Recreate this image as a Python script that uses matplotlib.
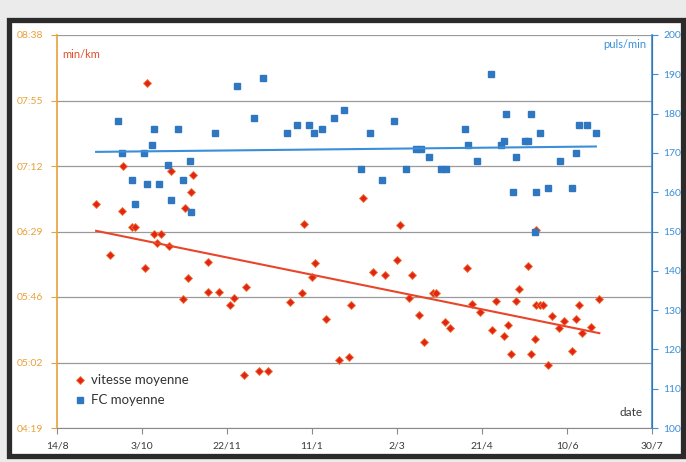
import matplotlib
matplotlib.use("Agg")
import matplotlib.pyplot as plt
import numpy as np
import pandas as pd
from matplotlib.ticker import FuncFormatter, FixedLocator, MultipleLocator
from matplotlib.patches import Rectangle

plt.rcParams["font.family"] = ["Lato", "DejaVu Sans"]

# dates de depart / fin de l'axe x
debut = pd.Timestamp("2010-08-14")
fin = pd.Timestamp("2011-07-30")

# vitesse moyenne : jours depuis le 14/8, secondes par km
jours_vitesse = [23, 31, 38, 39, 44, 46, 52, 53, 57, 59, 61, 66, 67, 74, 75, 77, 79, 80, 89, 89,
                 95, 102, 104, 110, 111, 119, 124, 137, 144, 145, 150, 152, 158, 166, 172, 173, 180, 186, 193, 200,
                 202, 207, 209, 213, 216, 221, 223, 228, 231, 241, 244, 249, 256, 258, 263, 265, 267, 270, 272, 277,
                 279, 281, 282, 282, 284, 286, 289, 291, 295, 298, 303, 305, 307, 309, 314, 319]
vitesse_sec = [407, 373, 402, 432, 392, 392, 365, 487, 387, 381, 387, 379, 429, 344, 404, 358, 415, 426, 349, 369,
               349, 340, 345, 294, 352, 297, 297, 342, 348, 394, 359, 368, 331, 304, 306, 340, 411, 362, 360, 370,
               393, 345, 360, 334, 316, 348, 348, 329, 325, 365, 341, 336, 324, 343, 320, 327, 308, 343, 351, 366,
               308, 318, 390, 340, 340, 340, 301, 333, 325, 330, 310, 331, 340, 322, 326, 344]

# FC moyenne : jours depuis le 14/8, puls/min
jours_fc = [36, 38, 44, 46, 51, 53, 56, 57, 60, 65, 67, 71, 74, 78, 79, 93, 106, 116, 121, 135,
            141, 148, 151, 156, 163, 169, 179, 184, 191, 198, 205, 211, 214, 219, 226, 229, 240, 242, 247, 255,
            261, 263, 264, 268, 270, 275, 277, 279, 281, 282, 284, 289, 296, 303, 305, 307, 312, 317]
fc = [178, 170, 163, 157, 170, 162, 172, 176, 162, 167, 158, 176, 163, 168, 155, 175, 187, 179, 189, 175,
      177, 177, 175, 176, 179, 181, 166, 175, 163, 178, 166, 171, 171, 169, 166, 166, 176, 172, 168, 190,
      172, 173, 180, 160, 169, 173, 173, 180, 150, 160, 175, 161, 168, 161, 170, 177, 177, 175]

dates_v = debut + pd.to_timedelta(jours_vitesse, unit="D")
dates_f = debut + pd.to_timedelta(jours_fc, unit="D")

fig = plt.figure(figsize=(6.86, 4.62), dpi=100)
fig.patch.set_facecolor("#ebebeb")
fig.add_artist(Rectangle((9 / 686, 1 - 456 / 462), 674 / 686, 436 / 462, transform=fig.transFigure,
                         facecolor="white", edgecolor="#2b2b2b", lw=3.8, zorder=-1))

ax = fig.add_axes([57 / 686, 1 - 428 / 462, 595 / 686, 393 / 462])
ax.set_facecolor("none")
ax2 = ax.twinx()

orange = "#E8A23A"
bleu = "#3A8FD8"

# points
ax.plot(dates_v, vitesse_sec, linestyle="none", marker="D", ms=3.6, mfc="#E2231A", mec="#F07A30",
        mew=0.6, label="vitesse moyenne")
ax2.plot(dates_f, fc, linestyle="none", marker="s", ms=5, mfc="#2F77C0", mec="#2F77C0",
         label="FC moyenne")

# courbes de tendance lineaires
x0 = min(jours_vitesse + jours_fc)
p1 = np.polyfit(jours_vitesse, vitesse_sec, 1)
xs1 = np.array([x0, max(jours_vitesse)])
ax.plot(debut + pd.to_timedelta(xs1, unit="D"), np.polyval(p1, xs1), color="#E8452A", lw=1.5)
p2 = np.polyfit(jours_fc, fc, 1)
xs2 = np.array([x0, max(jours_fc)])
ax2.plot(debut + pd.to_timedelta(xs2, unit="D"), np.polyval(p2, xs2), color=bleu, lw=1.5)

# axe x
ax.set_xlim(debut, fin)
ticks_x = [debut + pd.Timedelta(days=50 * k) for k in range(8)]
ax.set_xticks(ticks_x)
ax.xaxis.set_major_formatter(FuncFormatter(
    lambda v, pos: "%d/%d" % (matplotlib.dates.num2date(v).day, matplotlib.dates.num2date(v).month)))

# axe gauche min/km
ax.set_ylim(259.2, 518.4)
ax.yaxis.set_major_locator(FixedLocator([259.2 + 43.2 * k for k in range(7)]))
ax.yaxis.set_major_formatter(FuncFormatter(
    lambda v, pos: "%02d:%02d" % (int(round(v)) // 60, int(round(v)) % 60)))
ax.grid(axis="y", color="#9a9a9a", lw=0.9)
ax.set_axisbelow(True)

# axe droit puls/min
ax2.set_ylim(100, 200)
ax2.yaxis.set_major_locator(MultipleLocator(10))

for s in ["top"]:
    ax.spines[s].set_visible(False)
    ax2.spines[s].set_visible(False)
ax.spines["left"].set_color(orange)
ax.spines["left"].set_linewidth(1.2)
ax.spines["bottom"].set_color("#8a8a8a")
ax2.spines["left"].set_visible(False)
ax2.spines["bottom"].set_visible(False)
ax2.spines["right"].set_color(bleu)
ax2.spines["right"].set_linewidth(1.2)

ax.tick_params(axis="x", colors="#8a8a8a", labelcolor="#3a3a3a", labelsize=7.5, length=4, pad=6)
ax.tick_params(axis="y", colors=orange, labelcolor=orange, labelsize=7.5, length=4, pad=6)
ax2.tick_params(axis="y", colors=bleu, labelcolor=bleu, labelsize=7.5, length=4, pad=4)

# titres des axes
ax.text(0.008, 0.965, "min/km", transform=ax.transAxes, color="#E0502A", fontsize=8, va="top")
ax2.text(0.99, 0.99, "puls/min", transform=ax2.transAxes, color=bleu, fontsize=8, ha="right", va="top")
ax2.text(0.985, 0.025, "date", transform=ax2.transAxes, color="#3a3a3a", fontsize=8.5, ha="right", va="bottom")

# legende
h1, l1 = ax.get_legend_handles_labels()
h2, l2 = ax2.get_legend_handles_labels()
ax2.legend(h1 + h2, l1 + l2, loc="lower left", bbox_to_anchor=(0.01, 0.025), frameon=False,
           fontsize=9.5, handlelength=0.8, handletextpad=0.4, labelspacing=0.6, labelcolor="#333333")

plt.savefig("out.png", dpi=100, facecolor=fig.get_facecolor())
